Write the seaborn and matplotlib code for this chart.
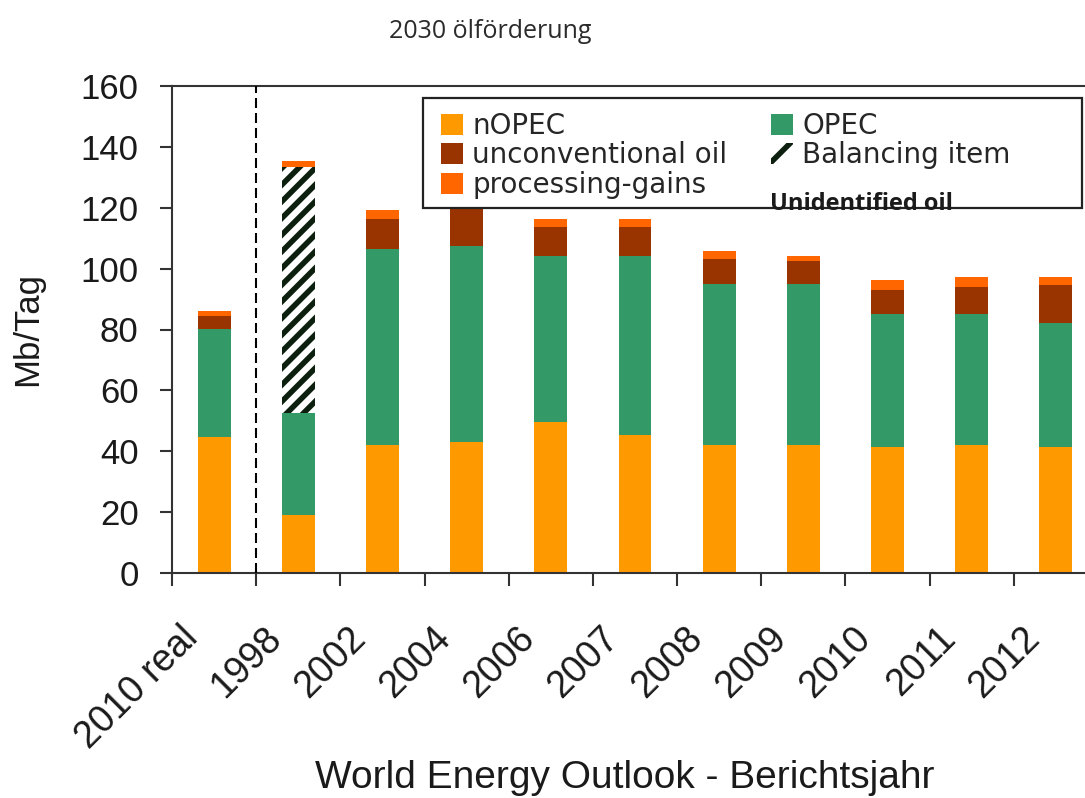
import numpy as np
import seaborn as sns
import matplotlib
matplotlib.use("Agg")
import matplotlib.pyplot as plt
from matplotlib.patches import Patch, Rectangle
from matplotlib.transforms import ScaledTranslation

# WEO report years (first bar = real 2010 production)
years = ["2010 real", "1998", "2002", "2004", "2006", "2007", "2008", "2009", "2010", "2011", "2012"]

# 2030 production per source, Mb/Tag
nopec = np.array([44.7, 19.2, 42.1, 43.2, 49.5, 45.5, 42.1, 42.1, 41.3, 42.1, 41.3])
opec = np.array([35.6, 33.4, 64.5, 64.3, 54.8, 58.6, 52.7, 52.7, 43.8, 43.0, 40.7])
unconv = np.array([4.0, 0.0, 9.6, 13.5, 9.4, 9.6, 8.4, 7.6, 7.9, 8.8, 12.5])
balancing = np.array([0.0, 80.7, 0.0, 0.0, 0.0, 0.0, 0.0, 0.0, 0.0, 0.0, 0.0])
proc_gains = np.array([1.7, 1.9, 3.1, 3.0, 2.5, 2.5, 2.6, 1.9, 3.2, 3.2, 2.6])

c_nopec = "#FF9900"
c_opec = "#339966"
c_unconv = "#993300"
c_proc = "#FF6600"
c_hatch = "#0d200f"

sns.set_style("ticks")
plt.rcParams["font.family"] = ["Liberation Sans", "DejaVu Sans"]
plt.rcParams["hatch.linewidth"] = 4.0
plt.rcParams["hatch.color"] = c_hatch

# cumulative tops, drawn back to front so every layer shows its own slice
top_opec = nopec + opec
top_unconv = top_opec + unconv
top_bal = top_unconv + balancing
top_all = top_bal + proc_gains

fig = plt.figure(figsize=(10.85, 7.98), dpi=100)
ax = fig.add_axes([172 / 1085, 1 - 573 / 798, 926 / 1085, 487 / 798])

common = dict(order=years, width=0.39, saturation=1, errorbar=None, linewidth=0, ax=ax)
sns.barplot(x=years, y=top_all, color=c_proc, **common)
sns.barplot(x=years, y=np.where(balancing > 0, top_bal, 0), color="white",
            edgecolor=c_hatch, hatch="//", **common)
sns.barplot(x=years, y=top_unconv, color=c_unconv, **common)
sns.barplot(x=years, y=top_opec, color=c_opec, **common)
sns.barplot(x=years, y=nopec, color=c_nopec, **common)

# separator between real data and forecasts
ax.axvline(0.5, color="black", lw=1.5, ls=(0, (4.8, 2.4)), zorder=3)

ax.set_xlim(-0.5, 10.5)
ax.set_ylim(0, 160)
ax.set_yticks(range(0, 161, 20))
ax.tick_params(axis="y", left=True, direction="out", length=9, width=1.5, pad=15,
               labelsize=25, color="#333333", labelcolor="#1a1a1a")

ax.set_xticks(range(len(years)))
ax.set_xticklabels(years, rotation=45, ha="right", va="center", rotation_mode="anchor")
ax.tick_params(axis="x", which="major", length=0, pad=43, labelsize=27, labelcolor="#1a1a1a")
ax.set_xticks(np.arange(-0.5, len(years), 1), minor=True)
ax.tick_params(axis="x", which="minor", bottom=True, direction="out", length=9, width=1.5,
               color="#333333")
shift = ScaledTranslation(-22 / 100, 0, fig.dpi_scale_trans)
for lab in ax.get_xticklabels():
    lab.set_transform(lab.get_transform() + shift)

for side in ["left", "bottom", "top"]:
    ax.spines[side].set_visible(True)
    ax.spines[side].set_linewidth(1.5)
    ax.spines[side].set_color("#333333")
ax.spines["right"].set_visible(False)

ax.set_ylabel("Mb/Tag", fontsize=25, color="#1a1a1a")
ax.yaxis.set_label_coords(-0.138, 0.5)
ax.set_xlabel("World Energy Outlook - Berichtsjahr", fontsize=28, color="#1a1a1a")
ax.xaxis.set_label_coords(0.489, -0.384)

# legend box (white, covers bar tops behind it)
ax.add_patch(Rectangle((0.271, 0.7495), 0.9827 - 0.271, 0.9754 - 0.7495,
                       transform=ax.transAxes, facecolor="white", edgecolor="#222222",
                       lw=1.6, zorder=5, clip_on=False))
handles = [
    Patch(facecolor=c_nopec, linewidth=0),
    Patch(facecolor=c_unconv, linewidth=0),
    Patch(facecolor=c_proc, linewidth=0),
    Patch(facecolor=c_opec, linewidth=0),
    Patch(facecolor="white", edgecolor=c_hatch, hatch="/", linewidth=0),
]
labels = ["nOPEC", "unconventional oil", "processing-gains", "OPEC", "Balancing item"]
leg = ax.legend(handles, labels, ncol=2, loc="upper left", bbox_to_anchor=(0.2905, 0.9466),
                frameon=False, borderpad=0, borderaxespad=0,
                prop={"family": "DejaVu Sans", "size": 20},
                handlelength=0.8, handleheight=0.8, handletextpad=0.32,
                columnspacing=1.58, labelspacing=0.05)
leg.set_zorder(6)
ax.text(0.6458, 0.7577, "Unidentified oil", transform=ax.transAxes, fontfamily="Open Sans",
        fontweight="bold", fontsize=17, va="center", color="#1a1a1a", zorder=7)

fig.text(490 / 1085, 1 - 31 / 798, "2030 ölförderung", ha="center", va="center",
         fontfamily="Open Sans", fontsize=18, color="#2b2b2b")

fig.savefig("out.png", dpi=100)
